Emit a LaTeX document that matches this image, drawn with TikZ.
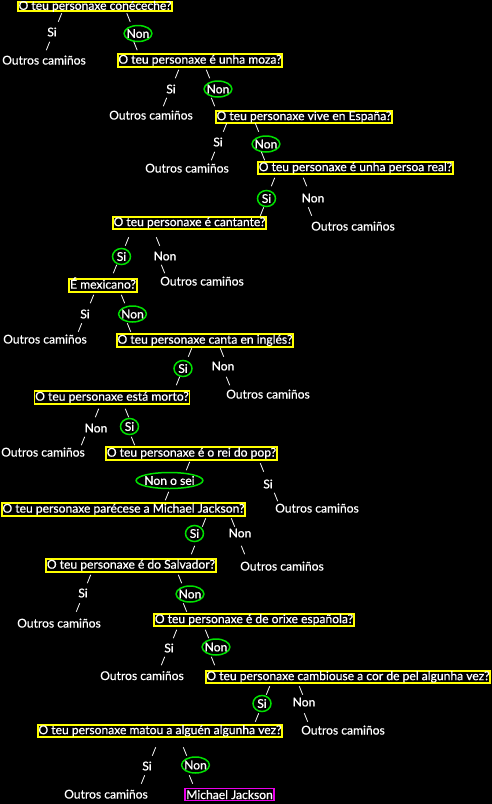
\documentclass[tikz,border=0pt]{standalone}
\usepackage{fontspec}
\setmainfont{Lato}[FakeBold=0.6]
\usetikzlibrary{shapes.geometric}

\definecolor{qyellow}{RGB}{255,255,0}
\definecolor{pickgreen}{RGB}{0,225,0}
\definecolor{endmagenta}{RGB}{235,0,235}

\begin{document}
\begin{tikzpicture}[x=1pt, y=-1pt,
    every node/.style={font=\fontsize{12.1}{14}\selectfont, text=white},
    question/.style={draw=qyellow, line width=1.8pt, inner xsep=0.8pt, inner ysep=0.5pt, text height=9pt, text depth=2.7pt},
    answer/.style={inner sep=0pt, text height=8.8pt, text depth=0pt},
    picked/.style={answer, ellipse, draw=pickgreen, line width=1.5pt, inner xsep=-1.5pt, inner ysep=0pt, minimum width=18pt, minimum height=16pt},
    leaf/.style={inner sep=0pt, text height=9pt, text depth=0pt},
    result/.style={draw=endmagenta, line width=1.8pt, inner xsep=1.5pt, inner ysep=1.5pt, text height=9pt, text depth=0pt},
    branch/.style={white, line width=0.8pt}]

    % Background and page size
    \fill[black] (0,0) rectangle (492,804);
    \useasboundingbox (0,0) rectangle (492,804);

    % Questions
    \node[question, text height=7pt, text depth=0.6pt, anchor=base] (q1) at (95,9.8) {O teu personaxe conéceche?};
    \node[question] (q2) at (200,60.5) {O teu personaxe é unha moza?};
    \node[question] (q3) at (304,117) {O teu personaxe vive en España?};
    \node[question] (q4) at (355.5,168) {O teu personaxe é unha persoa real?};
    \node[question] (q5) at (189.5,223) {O teu personaxe é cantante?};
    \node[question] (q6) at (103,285.5) {É mexicano?};
    \node[question] (q7) at (205,340.5) {O teu personaxe canta en inglés?};
    \node[question] (q8) at (112,397.5) {O teu personaxe está morto?};
    \node[question] (q9) at (191.5,453.5) {O teu personaxe é o rei do pop?};
    \node[question] (q10) at (123.5,509.5) {O teu personaxe parécese a Michael Jackson?};
    \node[question] (q11) at (131,565.5) {O teu personaxe é do Salvador?};
    \node[question] (q12) at (254,620) {O teu personaxe é de orixe española?};
    \node[question] (q13) at (348,677) {O teu personaxe cambiouse a cor de pel algunha vez?};
    \node[question] (q14) at (160,731) {O teu personaxe matou a alguén algunha vez?};

    % Answers (left and right branch of each question)
    \node[answer] (l1) at (52,32) {Si};
    \node[picked] (r1) at (138,33.5) {Non};
    \node[answer] (l2) at (171,89) {Si};
    \node[picked] (r2) at (218,89) {Non};
    \node[answer] (l3) at (218,142) {Si};
    \node[picked] (r3) at (266,144) {Non};
    \node[picked] (l4) at (266.5,198.5) {Si};
    \node[answer] (r4) at (313,198) {Non};
    \node[picked] (l5) at (121.5,256.5) {Si};
    \node[answer] (r5) at (165,256) {Non};
    \node[answer] (l6) at (85,314) {Si};
    \node[picked] (r6) at (132.5,314) {Non};
    \node[picked] (l7) at (183,368.5) {Si};
    \node[answer] (r7) at (223,366) {Non};
    \node[answer] (l8) at (96,428) {Non};
    \node[picked] (r8) at (129.5,426.5) {Si};
    \node[picked] (l9) at (169.5,480.5) {Non o sei};
    \node[answer] (r9) at (268,484) {Si};
    \node[picked] (l10) at (194.5,533.5) {Si};
    \node[answer] (r10) at (240,533) {Non};
    \node[answer] (l11) at (83,593) {Si};
    \node[picked] (r11) at (190,594) {Non};
    \node[answer] (l12) at (169,648) {Si};
    \node[picked] (r12) at (216,647) {Non};
    \node[picked] (l13) at (262,703.5) {Si};
    \node[answer] (r13) at (304,702) {Non};
    \node[answer] (l14) at (147,766) {Si};
    \node[picked] (r14) at (195.5,765) {Non};

    % Dead ends and the final guess
    \node[leaf] (o1) at (44,60) {Outros camiños};
    \node[leaf] (o2) at (151,115) {Outros camiños};
    \node[leaf] (o3) at (187,168) {Outros camiños};
    \node[leaf] (o4) at (353,226) {Outros camiños};
    \node[leaf] (o5) at (202,281) {Outros camiños};
    \node[leaf] (o6) at (45,339) {Outros camiños};
    \node[leaf] (o7) at (268,394) {Outros camiños};
    \node[leaf] (o8) at (43,452) {Outros camiños};
    \node[leaf] (o9) at (317,508) {Outros camiños};
    \node[leaf] (o10) at (282,566) {Outros camiños};
    \node[leaf] (o11) at (59,623) {Outros camiños};
    \node[leaf] (o12) at (142,675.5) {Outros camiños};
    \node[leaf] (o13) at (343,730) {Outros camiños};
    \node[leaf] (o14) at (106,794) {Outros camiños};
    \node[result] (mj) at (229.5,794.5) {Michael Jackson};

    % Branch marks above and below every answer (1 = /, -1 = \)
    \foreach \n/\d/\ux/\uy/\lx/\ly in {
        l1/1/8/-14.5/-4/14, r1/-1/-9.5/-16/-2.5/12.5,
        l2/1/6/-15/-6/13, r2/-1/-10/-15/-5/13,
        l3/1/7/-14.5/-5/14, r3/-1/-9/-16.5/-3/12,
        l4/1/6.5/-16.5/-4.5/13, r4/-1/-8/-16/-3/13.5,
        l5/1/5.5/-15/-6.5/12.5, r5/-1/-7/-14.5/-2/13,
        l6/1/7/-15/-5/13.5, r6/-1/-9.5/-15/-3.5/13.5,
        l7/1/7/-16/-5/12.5, r7/-1/-1/-13.5/5/15,
        l8/1/1/-15/-13/13, r8/-1/-2.5/-13.5/3.5/14.5,
        l9/1/18.5/-14.5/-2.5/15.5, r9/-1/-6/-16.5/8/13,
        l10/1/9.5/-11/-1.5/16.5, r10/-1/-7/-10.5/3/17,
        l11/1/6/-14/-5/14.5, r11/-1/-10/-15/-5/13.5,
        l12/1/6/-14/-6/13, r12/-1/-9/-13/-3/14,
        l13/1/6/-13/-5/14, r13/-1/-3/-11.5/2/15.5,
        l14/1/7/-14.5/-4/13.5, r14/-1/-10.5/-13.5/-4.5/14.5}{
        \draw[branch] ([shift={(\ux,\uy)}]\n.center) ++(1.7*\d,-4.2) -- ++(-3.4*\d,8.4);
        \draw[branch] ([shift={(\lx,\ly)}]\n.center) ++(1.7*\d,-4.2) -- ++(-3.4*\d,8.4);
    }
\end{tikzpicture}
\end{document}
